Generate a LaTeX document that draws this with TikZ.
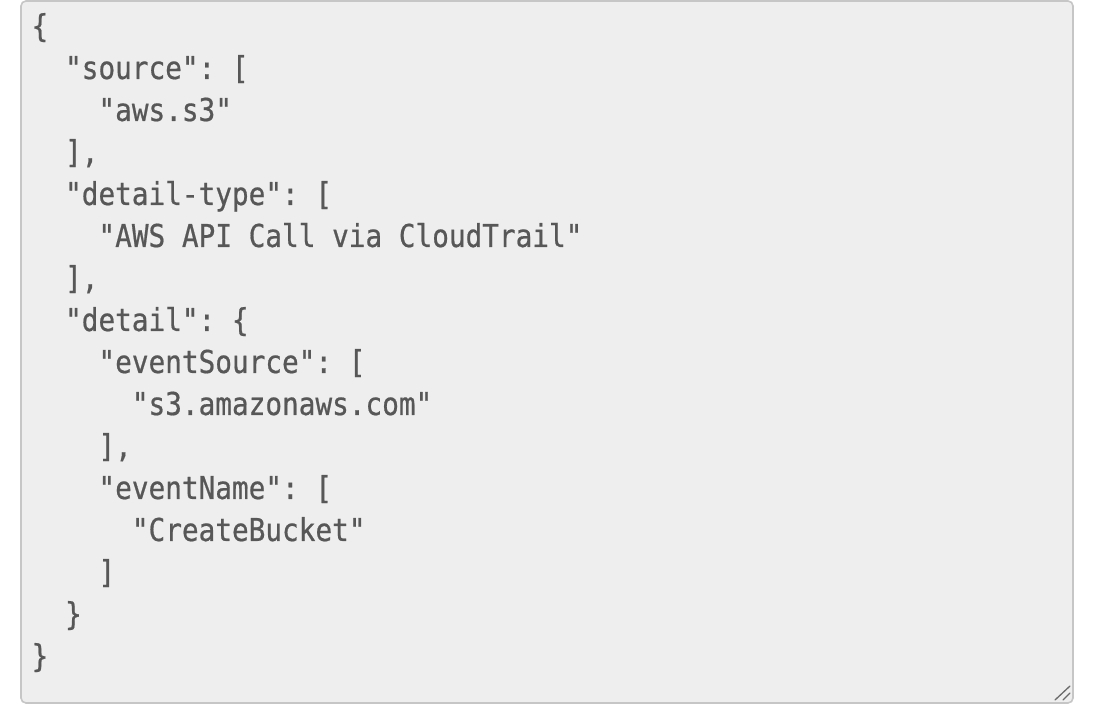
\documentclass[tikz,border=0pt]{standalone}
\usepackage{fontspec}
\setmonofont[FakeStretch=0.88,FakeBold=0.6]{DejaVu Sans Mono}
\definecolor{codetext}{HTML}{575757}
\definecolor{boxfill}{HTML}{EEEEEE}
\definecolor{boxline}{HTML}{C6C6C6}
\definecolor{gripcol}{HTML}{6A6A6A}
\tikzset{
  codeline/.style={anchor=base west, inner sep=0pt, text=codetext, font=\ttfamily\fontsize{31.5pt}{31.5pt}\selectfont},
}
\newcommand{\cx}[1]{31.5+16.7*#1}
\newcommand{\by}[1]{708-37-42*#1}
\begin{document}
\begin{tikzpicture}[x=1pt,y=1pt]
\useasboundingbox (0,0) rectangle (1096,708);
\fill[white] (0,0) rectangle (1096,708);
\draw[boxline, line width=1.6pt, fill=boxfill, rounded corners=5pt] (21,5) rectangle (1073,707);
\node[codeline] (l0)  at ({\cx{0}},{\by{0}})  {\{};
\node[codeline] (l1)  at ({\cx{2}},{\by{1}})  {"source": [};
\node[codeline] (l2)  at ({\cx{4}},{\by{2}})  {"aws.s3"};
\node[codeline] (l3)  at ({\cx{2}},{\by{3}})  {],};
\node[codeline] (l4)  at ({\cx{2}},{\by{4}})  {"detail-type": [};
\node[codeline] (l5)  at ({\cx{4}},{\by{5}})  {"AWS API Call via CloudTrail"};
\node[codeline] (l6)  at ({\cx{2}},{\by{6}})  {],};
\node[codeline] (l7)  at ({\cx{2}},{\by{7}})  {"detail": \{};
\node[codeline] (l8)  at ({\cx{4}},{\by{8}})  {"eventSource": [};
\node[codeline] (l9)  at ({\cx{6}},{\by{9}})  {"s3.amazonaws.com"};
\node[codeline] (l10) at ({\cx{4}},{\by{10}}) {],};
\node[codeline] (l11) at ({\cx{4}},{\by{11}}) {"eventName": [};
\node[codeline] (l12) at ({\cx{6}},{\by{12}}) {"CreateBucket"};
\node[codeline] (l13) at ({\cx{4}},{\by{13}}) {]};
\node[codeline] (l14) at ({\cx{2}},{\by{14}}) {\}};
\node[codeline] (l15) at ({\cx{0}},{\by{15}}) {\}};
\coordinate (g1a) at (1055,8);
\coordinate (g1b) at (1070,22);
\coordinate (g2a) at (1063,8);
\coordinate (g2b) at (1070,15);
\draw[gripcol, line width=1.3pt, line cap=round] (g1a) -- (g1b);
\draw[gripcol, line width=1.3pt, line cap=round] (g2a) -- (g2b);
\end{tikzpicture}
\end{document}
